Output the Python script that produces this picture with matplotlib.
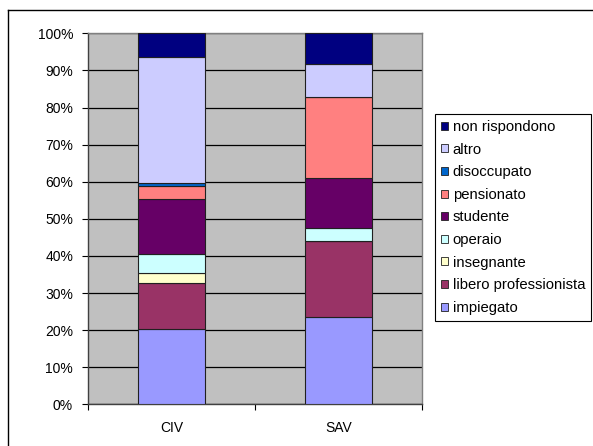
import matplotlib
matplotlib.use("Agg")
import matplotlib.pyplot as plt
from matplotlib.lines import Line2D
from matplotlib.patches import Patch
from matplotlib.ticker import FuncFormatter
import numpy as np

plt.rcParams['font.family'] = ['Liberation Sans', 'DejaVu Sans']

categories = ["CIV", "SAV"]
series_names = ["impiegato", "libero professionista", "insegnante", "operaio",
                "studente", "pensionato", "disoccupato", "altro", "non rispondono"]
impiegato = [20.4, 23.6]
libero_professionista = [12.2, 20.3]
insegnante = [2.9, 0.0]
operaio = [5.1, 3.5]
studente = [14.8, 13.6]
pensionato = [3.4, 21.9]
disoccupato = [0.9, 0.0]
altro = [34.0, 8.7]
non_rispondono = [6.3, 8.4]
series_values = [impiegato, libero_professionista, insegnante, operaio, studente,
                 pensionato, disoccupato, altro, non_rispondono]
colors = ["#9999FF", "#993366", "#FFFFCC", "#CCFFFF", "#660066",
          "#FF8080", "#0066CC", "#CCCCFF", "#000080"]
yticks = [0, 10, 20, 30, 40, 50, 60, 70, 80, 90, 100]

W, H = 593, 446
fig = plt.figure(figsize=(W / 100, H / 100), dpi=100)
fig.patch.set_facecolor("white")

# outer chart border (left and top visible)
fig.add_artist(Line2D([7.5 / W, 7.5 / W], [0, 1 - 9.5 / H], transform=fig.transFigure,
                      color="black", linewidth=1.0))
fig.add_artist(Line2D([7.5 / W, 1], [1 - 9.5 / H, 1 - 9.5 / H], transform=fig.transFigure,
                      color="black", linewidth=1.0))

ax = fig.add_axes([88.3 / W, 1 - 404.3 / H, (421.7 - 88.3) / W, (404.3 - 33.3) / H])
ax.set_facecolor("#C0C0C0")

x = np.arange(len(categories))
bottom = np.zeros(len(categories))
handles = []
for name, vals, c in zip(series_names, series_values, colors):
    v = np.array(vals, dtype=float)
    ax.bar(x, v, width=0.4, bottom=bottom, color=c, edgecolor="#202020",
           linewidth=0.8, zorder=3)
    handles.append(Patch(facecolor=c, edgecolor="#202020", linewidth=0.6, label=name))
    bottom += v

ax.set_xlim(-0.5, 1.5)
ax.set_ylim(0, 100)
ax.set_yticks(yticks)
ax.yaxis.set_major_formatter(FuncFormatter(lambda v, p: f"{int(v)}%"))
ax.set_xticks(x)
ax.set_xticklabels(categories)
ax.set_xticks([-0.5, 0.5, 1.5], minor=True)
ax.tick_params(axis="x", which="major", length=0, pad=12, labelsize=10)
ax.tick_params(axis="x", which="minor", length=4, width=0.8, color="black", direction="out")
ax.tick_params(axis="y", length=4, width=0.8, color="black", direction="out", pad=7, labelsize=10)
ax.yaxis.grid(True, color="black", linewidth=0.9, zorder=1)
ax.set_axisbelow(True)
for s in ["top", "right"]:
    ax.spines[s].set_color("#808080")
    ax.spines[s].set_linewidth(1.0)
ax.spines["left"].set_color("#404040")
ax.spines["bottom"].set_color("#404040")
ax.spines["left"].set_linewidth(1.0)
ax.spines["bottom"].set_linewidth(1.0)

leg = fig.legend(handles[::-1], series_names[::-1], loc="upper left",
                 bbox_to_anchor=(435 / W, 1 - 114 / H), borderaxespad=0,
                 frameon=True, fancybox=False, edgecolor="black", framealpha=1,
                 fontsize=10.7, handlelength=0.45, handleheight=0.45, handletextpad=0.35,
                 labelspacing=0.58, borderpad=0.4)
leg.get_frame().set_linewidth(0.8)

fig.savefig("out.png", dpi=100, facecolor="white")
